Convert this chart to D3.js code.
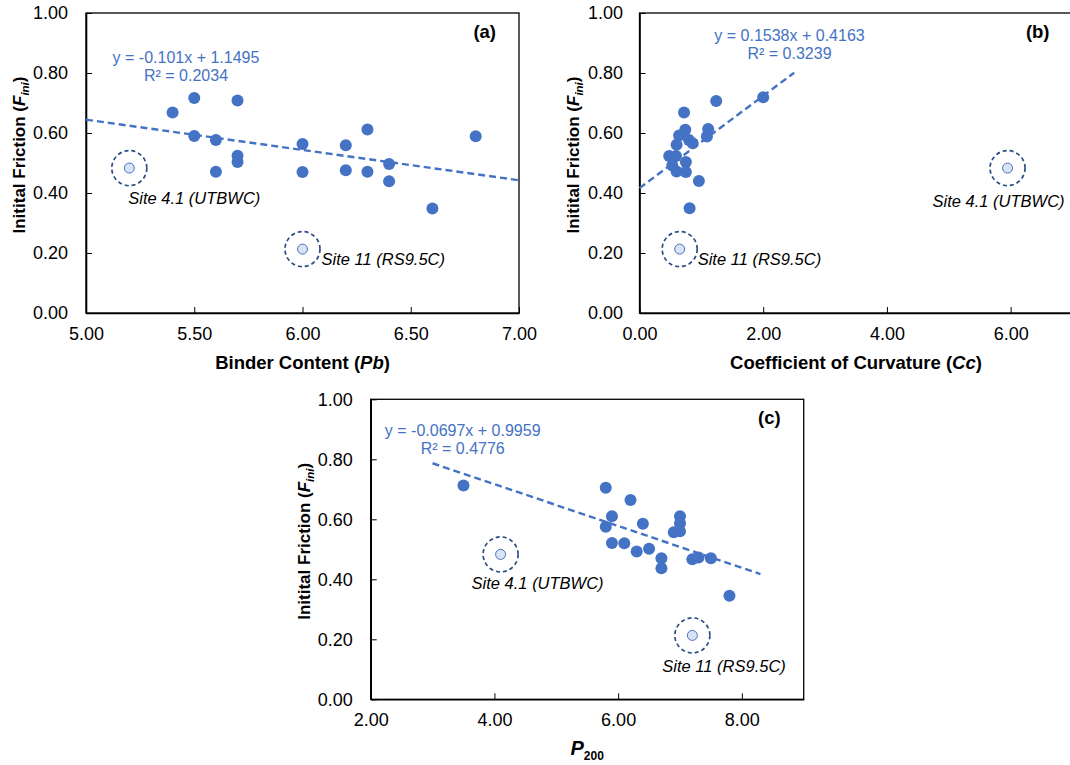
<!DOCTYPE html>
<html>
<head>
<meta charset="utf-8">
<script src="https://cdn.jsdelivr.net/npm/d3@7"></script>
<style>
  body { margin: 0; background: #fff; }
  svg { font-family: "Liberation Sans", Arial, sans-serif; }
</style>
</head>
<body>
<div id="chart"></div>
<script>
// Panel (a) - binder content
const pbValues   = [5.4, 5.5, 5.7, 5.5, 5.6, 5.7, 5.7, 5.6, 6.0, 6.0, 6.2, 6.2, 6.3, 6.3, 6.4, 6.4, 6.6, 6.8];
const pbFriction = [0.668, 0.717, 0.708, 0.590, 0.577, 0.524, 0.503, 0.471, 0.563, 0.470, 0.559, 0.476, 0.612, 0.471, 0.497, 0.439, 0.348, 0.589];

// Panel (b) - coefficient of curvature
const ccValues   = [1.24, 2.0, 0.72, 0.74, 1.11, 1.09, 0.64, 0.80, 0.86, 0.60, 0.48, 0.59, 0.75, 0.53, 0.60, 0.75, 0.96, 0.81];
const ccFriction = [0.707, 0.719, 0.668, 0.611, 0.613, 0.588, 0.592, 0.577, 0.566, 0.561, 0.523, 0.523, 0.503, 0.492, 0.472, 0.470, 0.440, 0.349];

// Panel (c) - P200
const p200Values   = [3.5, 5.8, 6.2, 5.9, 5.8, 6.4, 7.0, 7.0, 6.9, 7.0, 5.9, 6.1, 6.3, 6.5, 6.7, 6.7, 7.2, 7.3, 7.5, 7.8];
const p200Friction = [0.713, 0.705, 0.664, 0.610, 0.575, 0.585, 0.610, 0.587, 0.557, 0.560, 0.521, 0.520, 0.493, 0.502, 0.470, 0.437, 0.467, 0.473, 0.470, 0.345];

// Excluded sites (circled)
const outlierNames    = ["Site 4.1 (UTBWC)", "Site 11 (RS9.5C)"];
const outlierFriction = [0.483, 0.213];
const outlierPb       = [5.2, 6.0];
const outlierCc       = [5.95, 0.65];
const outlierP200     = [4.1, 7.2];

// Linear trend lines
const trendSlope     = [-0.101, 0.1538, -0.0697];
const trendIntercept = [1.1495, 0.4163, 0.9959];
const trendR2        = ["0.2034", "0.3239", "0.4776"];
const trendEqText    = ["y = -0.101x + 1.1495", "y = 0.1538x + 0.4163", "y = -0.0697x + 0.9959"];
const trendRange     = [[5, 7], [0, 2.5], [3, 8.3]];

// Axis ticks
const yTicks  = [0, 0.2, 0.4, 0.6, 0.8, 1.0];
const pbTicks = [5, 5.5, 6, 6.5, 7];
const ccTicks = [0, 2, 4, 6];
const p200Ticks = [2, 4, 6, 8];

const blue = "#4472c4", navy = "#2b4b85";

const svg = d3.select("#chart").append("svg")
  .attr("width", 1070)
  .attr("height", 765);

const panels = [
  { tag: "(a)", left: 86, top: 13, xDomain: [5, 7], xTicks: pbTicks, xs: pbValues, ys: pbFriction,
    out: outlierPb, title: ["Binder Content (", "Pb", ")"], eq: [100, 49.5], yPad: 18,
    labelOff: [[-1, 36], [19, 16]] },
  { tag: "(b)", left: 639.5, top: 13, xDomain: [0, 7], xTicks: ccTicks, xs: ccValues, ys: ccFriction,
    out: outlierCc, title: ["Coefficient of Curvature (", "Cc", ")"], eq: [150, 28.3], yPad: 16.5,
    labelOff: [[-75, 38.5], [18, 15.5]] },
  { tag: "(c)", left: 370.7, top: 399.3, xDomain: [2, 9], xTicks: p200Ticks, xs: p200Values, ys: p200Friction,
    out: outlierP200, title: null, eq: [92, 36.4], yPad: 18,
    labelOff: [[-29, 34.3], [-30, 36.7]] }
];

const width = 433, height = 300;

panels.forEach((p, i) => {
  let g = svg.append("g").attr("transform", `translate(${p.left},${p.top})`);

  let x = d3.scaleLinear().domain(p.xDomain).range([0, width]);
  let y = d3.scaleLinear().domain([0, 1]).range([height, 0]);

  // frame
  g.append("rect")
    .attr("width", width).attr("height", height)
    .attr("fill", "none").attr("stroke", "#000").attr("stroke-width", 1.3);

  // axes with inside ticks
  let xAxis = g.append("g").attr("transform", `translate(0,${height})`)
    .call(d3.axisBottom(x).tickValues(p.xTicks).tickSizeInner(-6).tickSizeOuter(0)
      .tickPadding(14).tickFormat(d3.format(".2f")));
  let yAxis = g.append("g")
    .call(d3.axisLeft(y).tickValues(yTicks).tickSizeInner(-6).tickSizeOuter(0)
      .tickPadding(p.yPad).tickFormat(d3.format(".2f")));
  [xAxis, yAxis].forEach(a => {
    a.select(".domain").attr("stroke", "#000").attr("stroke-width", 1.6);
    a.selectAll(".tick line").attr("stroke", "#000").attr("stroke-width", 1);
    a.selectAll(".tick text").attr("fill", "#000").style("font-size", "18px")
      .style("font-family", "'Liberation Sans', Arial, sans-serif");
  });
  xAxis.selectAll(".tick text").attr("dy", "0.71em");

  // trend line
  let tr = trendRange[i];
  g.append("line")
    .attr("x1", x(tr[0])).attr("y1", y(trendSlope[i] * tr[0] + trendIntercept[i]))
    .attr("x2", x(tr[1])).attr("y2", y(trendSlope[i] * tr[1] + trendIntercept[i]))
    .attr("stroke", blue).attr("stroke-width", 2.4).attr("stroke-dasharray", "7,4");

  // points
  g.selectAll("circle.pt")
    .data(p.xs.map((v, k) => [v, p.ys[k]]))
    .join("circle")
    .attr("class", "pt")
    .attr("cx", d => x(d[0])).attr("cy", d => y(d[1]))
    .attr("r", 6).attr("fill", blue);

  // excluded sites
  outlierNames.forEach((name, k) => {
    let cx = x(p.out[k]), cy = y(outlierFriction[k]);
    g.append("circle").attr("cx", cx).attr("cy", cy).attr("r", 17.5)
      .attr("fill", "none").attr("stroke", navy).attr("stroke-width", 1.7)
      .attr("stroke-dasharray", "4,3");
    g.append("circle").attr("cx", cx).attr("cy", cy).attr("r", 5)
      .attr("fill", "#dae3f3").attr("stroke", blue).attr("stroke-width", 1);
    g.append("text")
      .attr("x", cx + p.labelOff[k][0]).attr("y", cy + p.labelOff[k][1])
      .attr("font-size", 16.5).attr("font-style", "italic").attr("fill", "#000")
      .text(name);
  });

  // equation
  g.append("text").attr("x", p.eq[0]).attr("y", p.eq[1])
    .attr("text-anchor", "middle").attr("font-size", 16).attr("fill", blue)
    .text(trendEqText[i]);
  g.append("text").attr("x", p.eq[0]).attr("y", p.eq[1] + 18)
    .attr("text-anchor", "middle").attr("font-size", 16).attr("fill", blue)
    .text("R² = " + trendR2[i]);

  // panel tag
  g.append("text").attr("x", width - 23).attr("y", 25)
    .attr("text-anchor", "end").attr("font-size", 18.5).attr("font-weight", "bold")
    .text(p.tag);

  // x title
  let xt = g.append("text").attr("x", width / 2).attr("y", height + 56)
    .attr("text-anchor", "middle").attr("font-size", 18.5).attr("font-weight", "bold");
  if (p.title) {
    xt.append("tspan").text(p.title[0]);
    xt.append("tspan").attr("font-style", "italic").text(p.title[1]);
    xt.append("tspan").text(p.title[2]);
  } else {
    xt.append("tspan").attr("font-style", "italic").attr("font-size", 20).text("P");
    xt.append("tspan").attr("font-size", 12).attr("dy", 5).text("200");
  }

  // y title
  let yt = g.append("text")
    .attr("transform", `translate(-61,${height / 2 - 8}) rotate(-90)`)
    .attr("text-anchor", "middle").attr("font-size", 17).attr("font-weight", "bold");
  yt.append("tspan").text("Initital Friction (");
  yt.append("tspan").attr("font-style", "italic").text("F");
  yt.append("tspan").attr("font-style", "italic").attr("font-size", 11.5).attr("dy", 4).text("ini");
  yt.append("tspan").attr("dy", -4).text(")");
});
</script>
</body>
</html>
